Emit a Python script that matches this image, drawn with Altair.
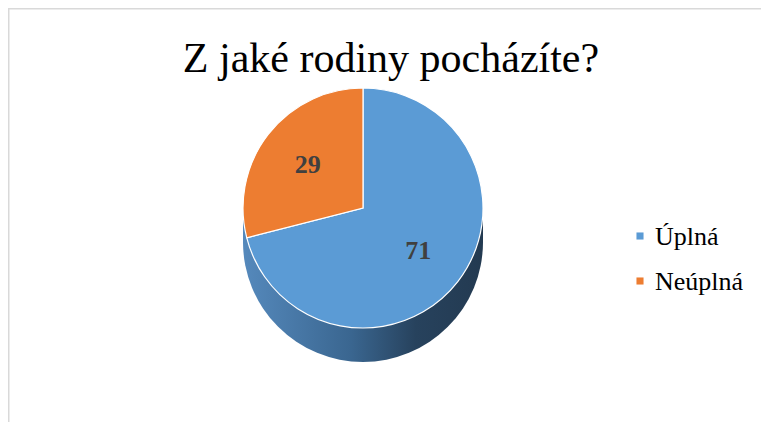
import altair as alt
import pandas as pd

# ---- data ----
categories = ["Úplná", "Neúplná"]
values = [71, 29]
colors = ["#5b9bd5", "#ed7d31"]
title_text = "Z jaké rodiny pocházíte?"

df = pd.DataFrame({
    "kategorie": categories,
    "hodnota": values,
    "poradi": list(range(len(categories))),
})
one = pd.DataFrame({"k": [0]})
title_df = pd.DataFrame({"t": [title_text]})

# ---- layout ----
W, H = 753, 414
CX, CY, R, DEPTH = 355, 200, 120, 34
SERIF = "Liberation Serif"

side_grad = alt.LinearGradient(
    gradient="linear",
    stops=[
        alt.GradientStop(color="#5589bc", offset=0),
        alt.GradientStop(color="#3a6690", offset=0.45),
        alt.GradientStop(color="#27425d", offset=0.72),
        alt.GradientStop(color="#233a51", offset=1),
    ],
    x1=0, x2=1, y1=0, y2=0,
)

color_scale = alt.Scale(domain=categories, range=colors)

border_top = alt.Chart(one).mark_rule(color="#d9d9d9", strokeWidth=1.5).encode(
    x=alt.value(0), x2=alt.value(W), y=alt.value(0.75)
)
border_left = alt.Chart(one).mark_rule(color="#d9d9d9", strokeWidth=1.5).encode(
    x=alt.value(0.75), y=alt.value(0), y2=alt.value(H)
)

side_disk = alt.Chart(one).mark_arc(
    theta=0, theta2=6.2832, outerRadius=R, fill=side_grad
).encode(x=alt.value(CX), y=alt.value(CY + DEPTH))

side_rect = alt.Chart(one).mark_rect(fill=side_grad).encode(
    x=alt.value(CX - R), x2=alt.value(CX + R),
    y=alt.value(CY), y2=alt.value(CY + DEPTH),
)

base = alt.Chart(df).encode(
    theta=alt.Theta("hodnota:Q", stack=True),
    order=alt.Order("poradi:O"),
)

pie = base.mark_arc(outerRadius=R, stroke="white", strokeWidth=1.2).encode(
    color=alt.Color("kategorie:N", scale=color_scale, legend=None),
    x=alt.value(CX),
    y=alt.value(CY),
)

labels = base.mark_text(
    radius=70, font=SERIF, fontSize=26, fontWeight="bold", color="#404040"
).encode(text="hodnota:Q", x=alt.value(CX), y=alt.value(CY))

title = alt.Chart(title_df).mark_text(
    font=SERIF, fontSize=42, color="#000000", baseline="alphabetic", align="center"
).encode(text="t:N", x=alt.value(383), y=alt.value(64))

# legend built from the category data
legend_y = alt.Y("kategorie:N", axis=None,
                 scale=alt.Scale(domain=categories, range=[228, 273], padding=0))
legend_sym = alt.Chart(df).mark_square(size=50, opacity=1).encode(
    x=alt.value(632),
    y=legend_y,
    color=alt.Color("kategorie:N", scale=color_scale, legend=None),
)
legend_txt = alt.Chart(df).mark_text(
    font=SERIF, fontSize=26, color="#000000", align="left",
    baseline="alphabetic", dy=8.5
).encode(
    x=alt.value(647),
    y=legend_y,
    text="kategorie:N",
)

chart = alt.layer(
    border_top, border_left, side_disk, side_rect, pie, labels, title,
    legend_sym, legend_txt
).properties(
    width=W, height=H,
    autosize=alt.AutoSizeParams(type="none"),
    padding=0,
).configure_view(stroke=None)

chart.save("out.html", embed_options={"renderer": "svg", "actions": False})
